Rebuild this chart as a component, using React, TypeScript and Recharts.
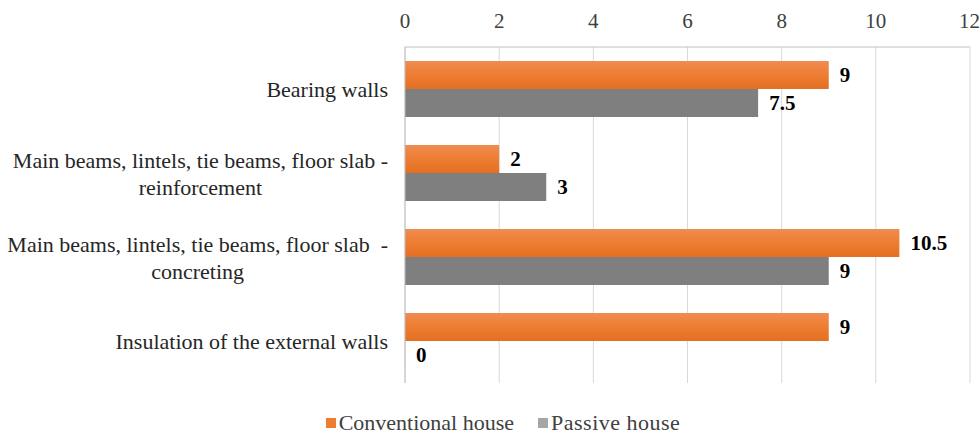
import React from "react";
import { BarChart, Bar, XAxis, YAxis, CartesianGrid, Legend, LabelList } from "recharts";

const categories = [
  "Bearing walls",
  "Main beams, lintels, tie beams, floor slab -\nreinforcement",
  "Main beams, lintels, tie beams, floor slab  -\nconcreting",
  "Insulation of the external walls",
];
const conventional = [9, 2, 10.5, 9];
const passive = [7.5, 3, 9, 0];
const xTicks = [0, 2, 4, 6, 8, 10, 12];
const seriesNames = ["Conventional house", "Passive house"];

const data = categories.map((c, i) => ({ name: c, conventional: conventional[i], passive: passive[i] }));

const FONT = '"Liberation Serif", "Times New Roman", serif';
const ORANGE = "#ED7D31";
const GRAY = "#7F7F7F";

let ctx: CanvasRenderingContext2D | null = null;
function measure(text: string, size: number) {
  if (!ctx) ctx = document.createElement("canvas").getContext("2d");
  if (!ctx) return text.length * size * 0.45;
  ctx.font = `${size}px "Liberation Serif"`;
  return ctx.measureText(text).width;
}

function CatTick(props: any) {
  const { x, y, payload } = props;
  const lines: string[] = String(payload.value).split("\n");
  const size = 22;
  const right = x - 9;
  if (lines.length === 1) {
    return (
      <text x={right} y={y} textAnchor="end" dominantBaseline="central" fontFamily={FONT} fontSize={size} fill="#262626" style={{ whiteSpace: "pre" }}>
        {lines[0]}
      </text>
    );
  }
  const maxW = Math.max(...lines.map((l) => measure(l, size)));
  const cx = right - maxW / 2;
  return (
    <g>
      {lines.map((l, i) => (
        <text key={i} x={cx} y={y - 13 + i * 27} textAnchor="middle" dominantBaseline="central" fontFamily={FONT} fontSize={size} fill="#262626" style={{ whiteSpace: "pre" }}>
          {l}
        </text>
      ))}
    </g>
  );
}

function LegendContent() {
  const items = [
    { name: seriesNames[0], color: ORANGE },
    { name: seriesNames[1], color: "#A6A6A6" },
  ];
  return (
    <div style={{ height: 52, display: "flex", alignItems: "flex-end", justifyContent: "center", paddingLeft: 36, paddingBottom: 0, boxSizing: "border-box" }}>
      {items.map((it, i) => (
        <div key={i} style={{ display: "flex", alignItems: "center", marginRight: i === 0 ? 24 : 0, fontFamily: FONT, fontSize: 22, color: "#404040", lineHeight: "25px" }}>
          <span style={{ display: "inline-block", width: 10, height: 10, background: it.color, marginRight: 3 }} />
          <span style={{ letterSpacing: i === 1 ? "0.5px" : "0px" }}>{it.name}</span>
        </div>
      ))}
    </div>
  );
}

const labelStyle = { fontFamily: FONT, fontSize: 21, fontWeight: "bold", fill: "#000" };

export default function App() {
  return (
    <div style={{ position: "absolute", left: 0, top: 0, width: 980, height: 435, background: "#fff" }}>
      <BarChart
        width={980}
        height={435}
        data={data}
        layout="vertical"
        margin={{ top: 0, right: 10, bottom: 0, left: 0 }}
        barCategoryGap="16.7%"
        barGap={0}
      >
        <defs>
          <linearGradient id="orangeGrad" x1="0" y1="0" x2="0" y2="1">
            <stop offset="0%" stopColor="#F08C52" />
            <stop offset="50%" stopColor="#ED7D31" />
            <stop offset="100%" stopColor="#E46F22" />
          </linearGradient>
        </defs>
        <CartesianGrid horizontal={false} stroke="#D9D9D9" />
        <XAxis
          type="number"
          orientation="top"
          domain={[0, 12]}
          ticks={xTicks}
          height={47}
          axisLine={{ stroke: "#BFBFBF" }}
          tickLine={false}
          tickSize={0}
          tickMargin={19}
          tick={{ fontFamily: FONT, fontSize: 21, fill: "#404040" }}
        />
        <YAxis
          type="category"
          dataKey="name"
          width={405}
          axisLine={{ stroke: "#BFBFBF" }}
          tickLine={false}
          tick={<CatTick />}
          interval={0}
        />
        <Legend verticalAlign="bottom" content={<LegendContent />} />
        <Bar dataKey="conventional" name={seriesNames[0]} fill="url(#orangeGrad)" isAnimationActive={false}>
          <LabelList dataKey="conventional" position="right" offset={11} style={labelStyle} />
        </Bar>
        <Bar dataKey="passive" name={seriesNames[1]} fill={GRAY} minPointSize={0.1} isAnimationActive={false}>
          <LabelList dataKey="passive" position="right" offset={11} style={labelStyle} />
        </Bar>
      </BarChart>
    </div>
  );
}
